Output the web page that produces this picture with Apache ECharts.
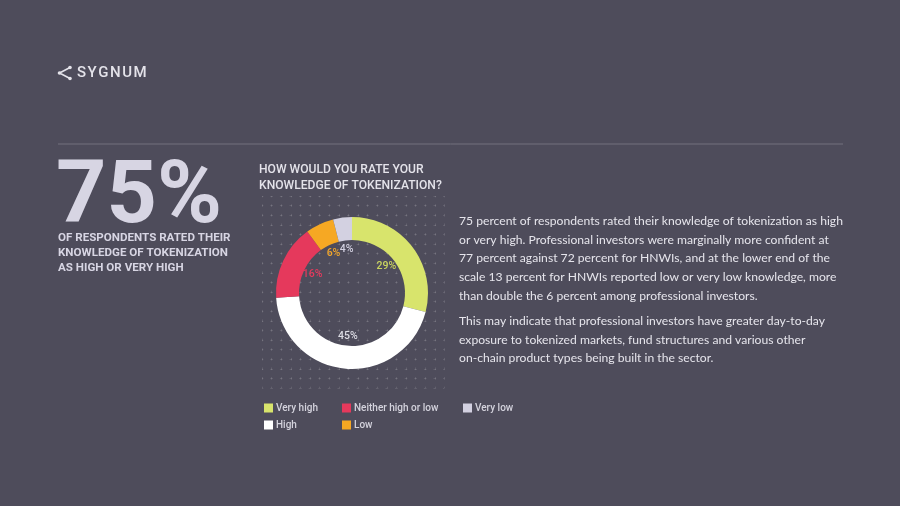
<!DOCTYPE html>
<html>
<head>
  <meta charset="utf-8">
  <title>Sygnum | Knowledge of tokenization</title>
  <script src="https://cdn.jsdelivr.net/npm/echarts@6/dist/echarts.min.js"></script>
  <style>
    html, body { margin: 0; padding: 0; background: #4e4c5b; }
    #chart { width: 900px; height: 506px; }
  </style>
</head>
<body>
<div id="chart"></div>
<script type="text/javascript">
// survey answers, clockwise from 12 o'clock
var categories = ['Very high', 'High', 'Neither high or low', 'Low', 'Very low'];
var shares = [29, 45, 16, 6, 4];
var sliceColors = ['#d8e46c', '#ffffff', '#e5395c', '#f6a823', '#d3d1e1'];
var labelColors = ['#c9d45e', '#dcdce4', '#e5395c', '#f0a52a', '#d3d1e1'];

// legend columns as laid out in the picture
var legendCols = [
  ['Very high', 'High'],
  ['Neither high or low', 'Low'],
  ['Very low']
];

var headline = '75%';
var headlineNote = 'OF RESPONDENTS RATED THEIR\nKNOWLEDGE OF TOKENIZATION\nAS HIGH OR VERY HIGH';
var question = 'HOW WOULD YOU RATE YOUR\nKNOWLEDGE OF TOKENIZATION?';
var para1 = [
  '75 percent of respondents rated their knowledge of tokenization as high',
  'or very high. Professional investors were marginally more confident at',
  '77 percent against 72 percent for HNWIs, and at the lower end of the',
  'scale 13 percent for HNWIs reported low or very low knowledge, more',
  'than double the 6 percent among professional investors.'
];
var para2 = [
  'This may indicate that professional investors have greater day-to-day',
  'exposure to tokenized markets, fund structures and various other',
  'on-chain product types being built in the sector.'
];

var myChart = echarts.init(document.getElementById('chart'));

var ringData = categories.map(function (name, i) {
  return { name: name, value: shares[i], itemStyle: { color: sliceColors[i] } };
});
var labelData = categories.map(function (name, i) {
  return { name: name, value: shares[i], label: { color: labelColors[i] } };
});

var dotStyle = { color: 'rgba(255,255,255,0.12)', width: 1, type: [2.6, 7], dashOffset: 1.3 };

var legends = legendCols.map(function (col, i) {
  return {
    orient: 'vertical',
    left: [259, 337, 458][i],
    top: 398,
    itemWidth: 9,
    itemHeight: 9,
    itemGap: 7,
    icon: 'rect',
    selectedMode: false,
    data: col,
    textStyle: { color: '#d4d3dd', fontSize: 10, fontFamily: 'Roboto', fontWeight: 500, padding: [0, 0, 0, -2] }
  };
});

var option = {
  backgroundColor: '#4e4c5b',
  animation: false,
  grid: { left: 262, top: 196, width: 182.4, height: 192 },
  xAxis: {
    type: 'value', min: 0, max: 19, interval: 1,
    axisLine: { show: false }, axisTick: { show: false }, axisLabel: { show: false },
    splitLine: { show: true, lineStyle: dotStyle }
  },
  yAxis: {
    type: 'value', min: 0, max: 20, interval: 1,
    axisLine: { show: false }, axisTick: { show: false }, axisLabel: { show: false },
    splitLine: { show: true, lineStyle: dotStyle }
  },
  legend: legends,
  graphic: [
    // logo
    { type: 'polyline', shape: { points: [[70, 67.5], [59.5, 73], [70, 78.5]] },
      style: { stroke: '#e4e3ea', lineWidth: 1.6, fill: null } },
    { type: 'circle', shape: { cx: 70, cy: 67.5, r: 1.8 }, style: { fill: '#e4e3ea' } },
    { type: 'circle', shape: { cx: 59.5, cy: 73, r: 1.8 }, style: { fill: '#e4e3ea' } },
    { type: 'circle', shape: { cx: 70, cy: 78.5, r: 1.8 }, style: { fill: '#e4e3ea' } },
    { type: 'text', x: 77, y: 73.5,
      style: { text: 'S\u200AY\u200AG\u200AN\u200AU\u200AM', fill: '#e4e3ea', font: '500 15px Roboto', verticalAlign: 'middle' } },
    // separator
    { type: 'line', shape: { x1: 58, y1: 144, x2: 843, y2: 144 },
      style: { stroke: '#72707e', lineWidth: 1 } },
    // big number
    { type: 'text', x: 56, y: 200,
      style: { text: headline, fill: '#d7d5e3', font: 'bold 88px Roboto', verticalAlign: 'middle' } },
    { type: 'text', x: 58, y: 230.5,
      style: { text: headlineNote, fill: '#d7d5e3', font: 'bold 11.6px Roboto', lineHeight: 15, verticalAlign: 'top' } },
    // question
    { type: 'text', x: 259, y: 161.5,
      style: { text: question, fill: '#e4e3ea', font: '500 12.1px Roboto', lineHeight: 16, verticalAlign: 'top' } },
    // body copy
    { type: 'text', x: 459, y: 212,
      style: { text: para1.join('\n'), fill: '#e6e5ec', font: '12.15px Lato', lineHeight: 18.6, verticalAlign: 'top' } },
    { type: 'text', x: 459, y: 312,
      style: { text: para2.join('\n'), fill: '#e6e5ec', font: '12.15px Lato', lineHeight: 18.6, verticalAlign: 'top' } }
  ],
  series: [
    {
      name: 'Knowledge',
      type: 'pie',
      center: [352, 293],
      radius: [53, 76],
      startAngle: 90,
      clockwise: true,
      silent: true,
      label: { show: false },
      labelLine: { show: false },
      data: ringData
    },
    {
      name: 'Labels',
      type: 'pie',
      center: [352, 293],
      radius: [32, 49],
      startAngle: 90,
      clockwise: true,
      silent: true,
      avoidLabelOverlap: false,
      minShowLabelAngle: 0,
      labelLayout: { hideOverlap: false },
      itemStyle: { color: 'rgba(0,0,0,0)' },
      label: {
        show: true,
        position: 'inside',
        formatter: '{c}%',
        fontFamily: 'Roboto',
        fontSize: 10.5,
        fontWeight: 500
      },
      labelLine: { show: false },
      data: labelData
    }
  ]
};
myChart.setOption(option);
</script>
</body>
</html>
